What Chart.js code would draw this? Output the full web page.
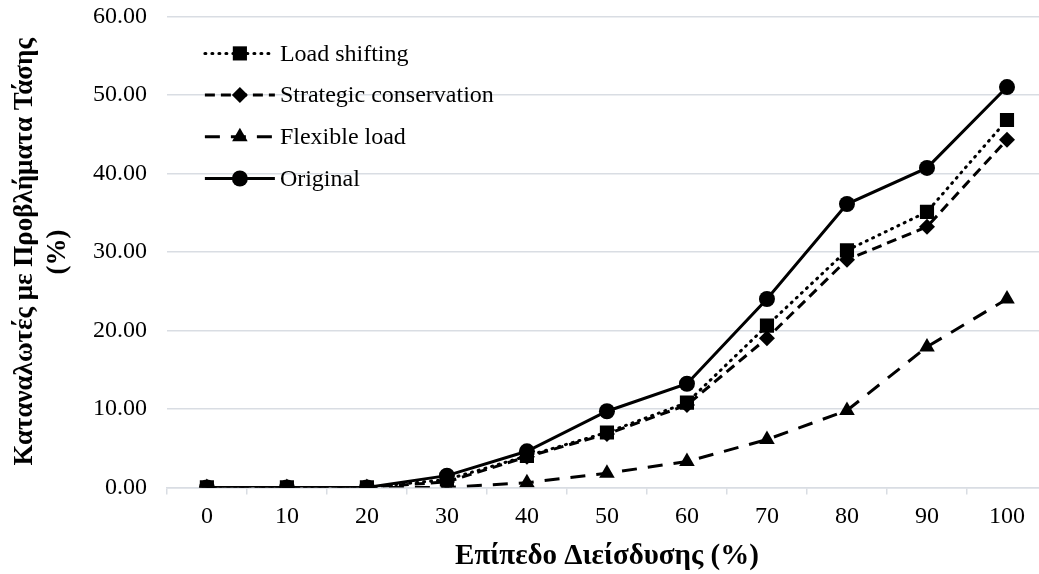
<!DOCTYPE html>
<html>
<head>
<meta charset="utf-8">
<script src="https://cdn.jsdelivr.net/npm/chart.js@4"></script>
<style>
  html, body { margin: 0; padding: 0; background: #fff; overflow: hidden; }
  #wrap { width: 1050px; height: 574px; }
</style>
</head>
<body>
<div id="wrap"><canvas id="chartVoltage"></canvas></div>
<script>
const penetration = ['0', '10', '20', '30', '40', '50', '60', '70', '80', '90', '100'];
const loadShifting = [0, 0, 0, 1.0, 4.0, 7.0, 10.8, 20.6, 30.2, 35.1, 46.8];
const strategicConservation = [0, 0, 0, 0.7, 3.9, 6.8, 10.5, 19.0, 29.0, 33.2, 44.3];
const flexibleLoad = [0, 0, 0, 0.0, 0.6, 1.8, 3.3, 6.1, 9.8, 17.9, 24.0];
const original = [0, 0, 0, 1.5, 4.6, 9.7, 13.2, 24.0, 36.1, 40.7, 51.0];

const yTicks = [0, 10, 20, 30, 40, 50, 60];

const serif = "'Liberation Serif', 'Times New Roman', serif";

// legend drawn inside the plot: line sample + marker + label
const innerLegend = {
    id: 'innerLegend',
    afterDraw(chart) {
        const ctx = chart.ctx;
        const area = chart.chartArea;
        const x0 = area.left + 38;
        const x1 = area.left + 108;
        ctx.save();
        chart.data.datasets.forEach((ds, i) => {
            const y = area.top + 37 + i * 41.7;
            ctx.strokeStyle = ds.borderColor;
            ctx.lineWidth = ds.borderWidth;
            ctx.lineCap = ds.borderCapStyle || 'butt';
            ctx.setLineDash(ds.borderDash || []);
            ctx.lineDashOffset = 0;
            ctx.beginPath();
            ctx.moveTo(x0, y);
            ctx.lineTo(x1, y);
            ctx.stroke();
            ctx.setLineDash([]);
            ctx.fillStyle = ds.pointBackgroundColor;
            Chart.helpers.drawPoint(ctx, {
                pointStyle: ds.pointStyle,
                radius: ds.pointRadius,
                rotation: 0,
                borderWidth: 0
            }, (x0 + x1) / 2, y);
            ctx.fillStyle = '#000';
            ctx.font = '24px ' + serif;
            ctx.textBaseline = 'middle';
            ctx.textAlign = 'left';
            ctx.fillText(ds.label, x1 + 5, y + 1);
        });
        ctx.restore();
    }
};

const data_voltage = {
    labels: penetration,
    datasets: [{
        label: 'Load shifting',
        data: loadShifting,
        borderColor: '#000',
        borderWidth: 3,
        borderDash: [1, 6],
        borderCapStyle: 'round',
        pointStyle: 'rect',
        pointRadius: 10,
        pointBackgroundColor: '#000',
        pointBorderWidth: 0,
        order: 1
    }, {
        label: 'Strategic conservation',
        data: strategicConservation,
        borderColor: '#000',
        borderWidth: 3,
        borderDash: [10, 6],
        pointStyle: 'rectRot',
        pointRadius: 8,
        pointBackgroundColor: '#000',
        pointBorderWidth: 0,
        order: 2
    }, {
        label: 'Flexible load',
        data: flexibleLoad,
        borderColor: '#000',
        borderWidth: 3,
        borderDash: [15, 11],
        pointStyle: 'triangle',
        pointRadius: 9,
        pointBackgroundColor: '#000',
        pointBorderWidth: 0,
        order: 3
    }, {
        label: 'Original',
        data: original,
        borderColor: '#000',
        borderWidth: 3,
        pointStyle: 'circle',
        pointRadius: 8,
        pointBackgroundColor: '#000',
        pointBorderWidth: 0,
        order: 0
    }]
};

const config_voltage = {
    type: 'line',
    data: data_voltage,
    plugins: [innerLegend],
    options: {
        responsive: true,
        maintainAspectRatio: false,
        animation: false,
        layout: { autoPadding: false, padding: { top: 0, right: 3, left: 9, bottom: 0 } },
        plugins: {
            legend: { display: false },
            tooltip: { enabled: false }
        },
        elements: { line: { tension: 0 } },
        scales: {
            x: {
                offset: true,
                grid: {
                    offset: true,
                    drawOnChartArea: false,
                    tickLength: 7,
                    color: '#d9dde3',
                    lineWidth: 1.5
                },
                border: { display: true, color: '#d9dde3', width: 1.5 },
                ticks: {
                    color: '#000',
                    font: { family: serif, size: 24 },
                    padding: 8,
                    maxRotation: 0
                },
                title: {
                    display: true,
                    text: 'Επίπεδο Διείσδυσης (%)',
                    color: '#000',
                    font: { family: serif, size: 29, weight: 'bold' },
                    padding: { top: 0, bottom: 0 }
                }
            },
            y: {
                min: 0,
                max: 60,
                afterBuildTicks: (axis) => { axis.ticks = yTicks.map(v => ({ value: v })); },
                grid: {
                    drawTicks: true,
                    tickLength: 18,
                    tickColor: 'rgba(0,0,0,0)',
                    color: '#d9dde3',
                    lineWidth: 1.5
                },
                border: { display: false },
                ticks: {
                    color: '#000',
                    font: { family: serif, size: 24 },
                    padding: 2,
                    callback: function (value) {
                        return Number(value).toFixed(2);
                    }
                },
                title: {
                    display: true,
                    text: ['Καταναλωτές με Προβλήματα Τάσης', '(%)'],
                    color: '#000',
                    font: { family: serif, size: 27, weight: 'bold', lineHeight: 1.22 },
                    padding: { top: 0, bottom: 16 }
                }
            }
        }
    }
};

const chart_voltage = new Chart(document.getElementById('chartVoltage').getContext('2d'), config_voltage);
</script>
</body>
</html>
